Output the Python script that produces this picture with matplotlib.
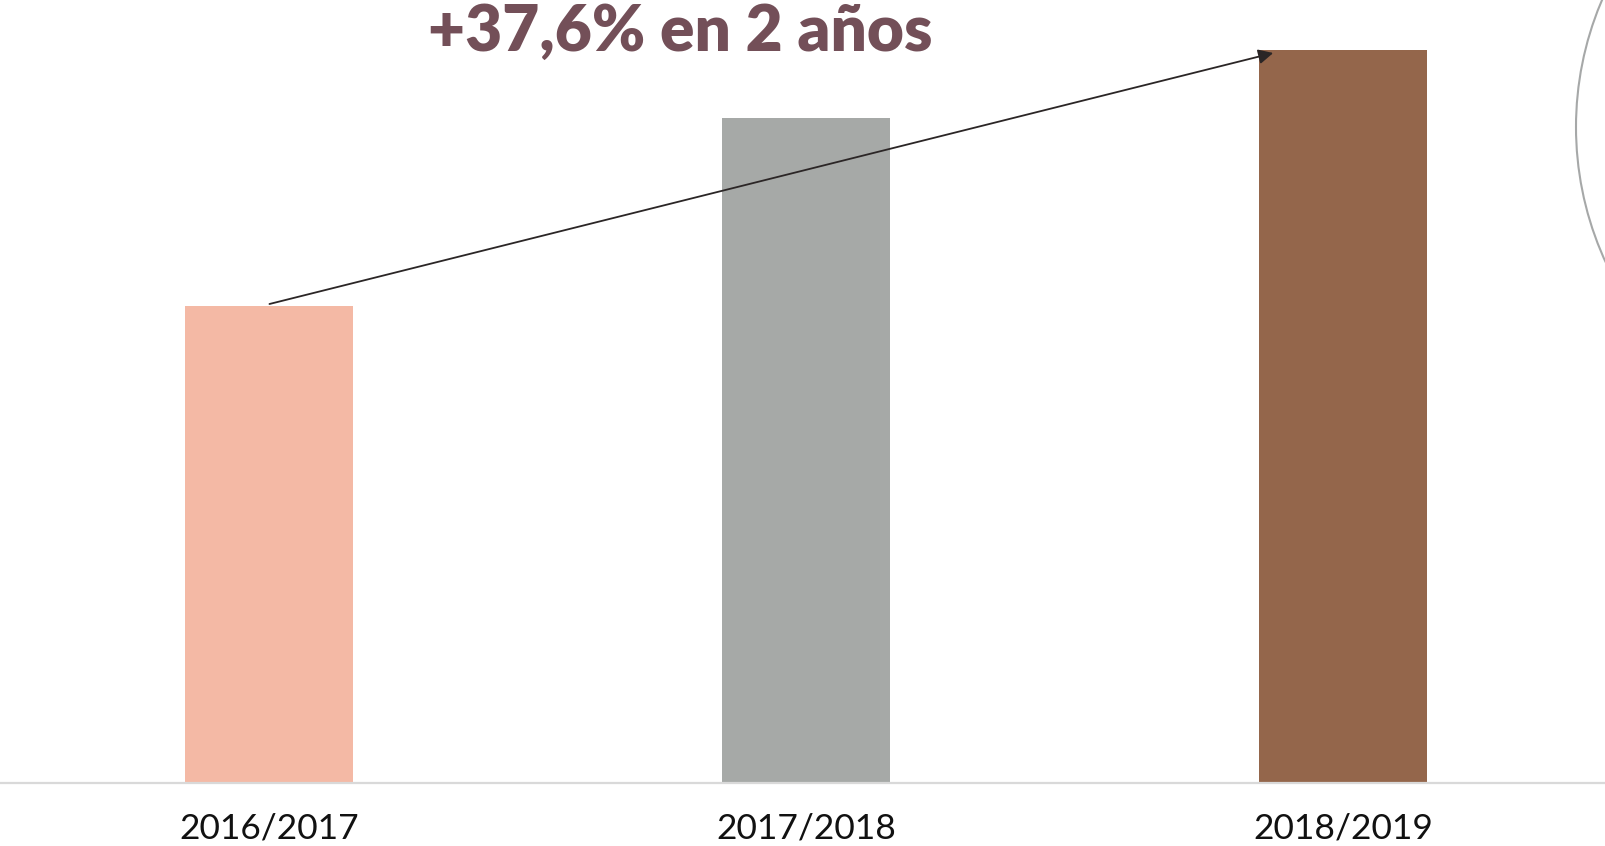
import matplotlib
matplotlib.use("Agg")
import matplotlib.pyplot as plt
from matplotlib.patches import Circle
from matplotlib.transforms import IdentityTransform

# Data (relative bar heights; no value axis shown)
categories = ["2016/2017", "2017/2018", "2018/2019"]
values = [47.7, 66.5, 73.3]
colors = ["#f4b9a5", "#a6a9a7", "#94664b"]
headline = "+37,6% en 2 años"

W, H, DPI = 1606, 846, 100
fig = plt.figure(figsize=(W / DPI, H / DPI), dpi=DPI)
ax = fig.add_axes([0, 63 / H, 1, 1 - 63 / H])

x = list(range(len(categories)))
ax.bar(x, values, width=0.313, color=colors, zorder=2)
ax.set_xlim(-0.502, 2.49)
ax.set_ylim(0, 78.3)

for s in ["top", "right", "left"]:
    ax.spines[s].set_visible(False)
ax.spines["bottom"].set_color("#d9d9d9")
ax.spines["bottom"].set_linewidth(1.6)
ax.set_yticks([])
ax.set_xticks(x)
ax.set_xticklabels(categories, fontfamily="Lato", fontsize=25.5, color="#111111")
ax.tick_params(axis="x", length=0, pad=21.5)

# Growth arrow from first bar top to last bar top
ax.annotate("", xy=(1.87, values[2] - 0.3), xytext=(0.0, values[0] + 0.2),
            arrowprops=dict(arrowstyle="-|>", color="#2b2626", lw=1.3,
                            mutation_scale=22, shrinkA=0, shrinkB=0),
            zorder=3)

fig.text(680 / W, 1 - 51 / H, headline, ha="center", va="baseline",
         fontfamily="Lato", fontweight="heavy", fontsize=46, color="#734f58")

# Decorative circle partially visible at the right edge
circ = Circle((1899, H - 127), 323, transform=IdentityTransform(),
              fill=False, edgecolor="#a6a8a8", lw=1.5)
fig.add_artist(circ)

fig.savefig("out.png", dpi=DPI)
